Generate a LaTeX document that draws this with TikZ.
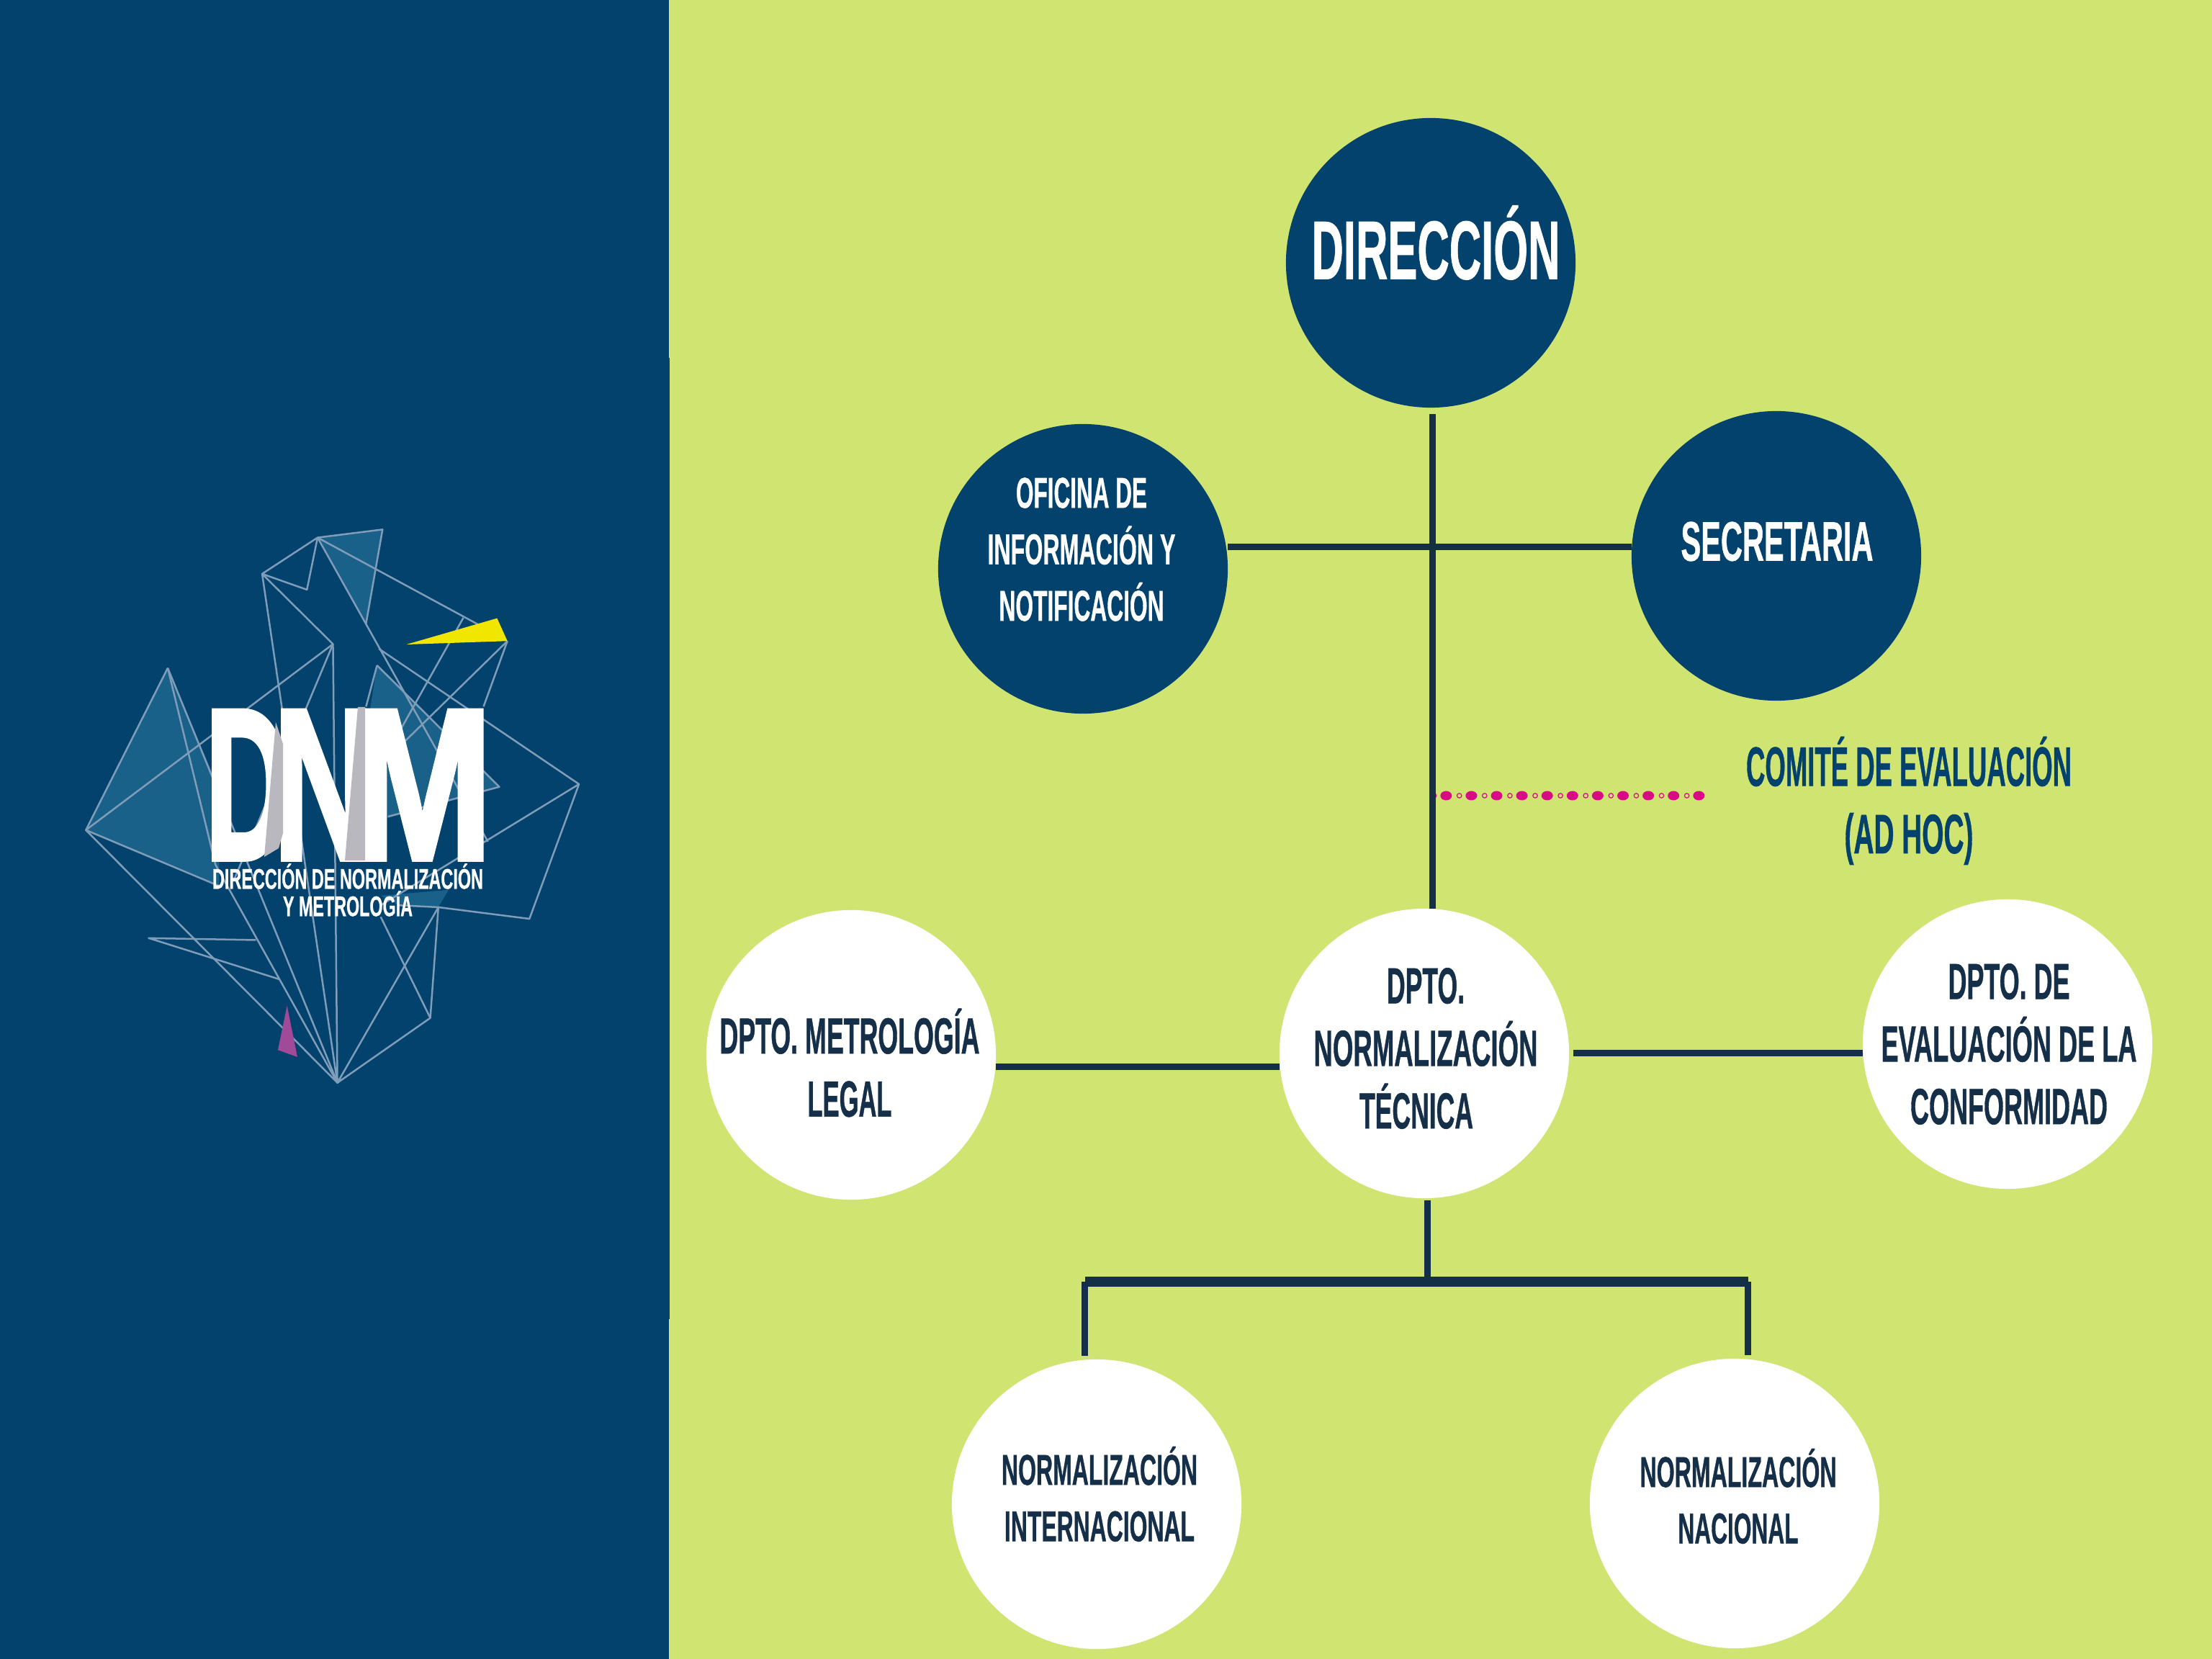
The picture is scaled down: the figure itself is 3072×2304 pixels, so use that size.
\documentclass[tikz,border=0pt]{standalone}
\usepackage{fontspec}
\newfontfamily\capfont[UprightFont=* Bold,FakeBold=1]{Liberation Sans}
\newfontfamily\siglafont[UprightFont=* Bold,FakeBold=2.5]{Liberation Sans}
\newdimen\pxu \pxu=0.01cm
% ancho de cada linea en pixeles de la figura
\newcommand{\ajus}[2]{\resizebox{#1\pxu}{\height}{#2}}
\definecolor{azul}{HTML}{02426C}
\definecolor{verde}{HTML}{D0E472}
\definecolor{tinta}{HTML}{152F48}
\definecolor{traza}{HTML}{7F9DB9}
\definecolor{relleno}{HTML}{1A6189}
\definecolor{gris}{HTML}{B9B8BE}
\definecolor{fucsia}{HTML}{DA0A86}
\definecolor{amarillo}{HTML}{F0E600}
\definecolor{morado}{HTML}{A04A98}
\tikzset{
  circulo/.style={circle, inner sep=0pt, outer sep=0pt, minimum size=4.02cm},
  linea/.style={tinta, line width=0.09cm},
  barra/.style={tinta, line width=0.14cm},
  rotulo/.style={align=center, inner sep=0pt, text=tinta},
  logotrazo/.style={traza, line width=0.025cm, line join=round},
}
\begin{document}
\begin{tikzpicture}[x=0.01cm,y=-0.01cm]
    \fill[verde] (0,0) rectangle (3072,2304);
    \fill[azul] (0,0) rectangle (929,2304);
    \fill[azul] (929,497) rectangle (930,1832);
    % logo
    \begin{scope}[shift={(80,700)},x=0.005102cm,y=-0.005356cm]
    \fill[relleno] (708,87) -- (885,66) -- (840,310) -- cycle;
    \fill[relleno] (300,425) -- (77,845) -- (440,990) -- (440,740) -- cycle;
    \fill[relleno] (870,418) -- (1203,733) -- (800,840) -- cycle;
    \fill[relleno] (880,1015) -- (1065,1000) -- (1037,1045) -- (930,1040) -- cycle;
    \draw[logotrazo] (708,87) -- (885,66) -- (840,310);
    \draw[logotrazo] (557,181) -- (708,87) -- (679,222) -- cycle;
    \draw[logotrazo] (708,87) -- (1145,312);
    \draw[logotrazo] (708,87) -- (1172,875);
    \draw[logotrazo] (875,375) -- (1420,726) -- (1285,1075) -- (1037,1045) -- (930,1040);
    \draw[logotrazo] (1420,726) -- (880,1040);
    \draw[logotrazo] (1225,355) -- (1160,525);
    \draw[logotrazo] (1105,295) -- (925,600);
    \draw[logotrazo] (1225,355) -- (935,625);
    \draw[logotrazo] (557,181) -- (750,363) -- (762,1500) -- (557,181);
    \draw[logotrazo] (750,363) -- (77,845) -- (440,990);
    \draw[logotrazo] (750,363) -- (480,975);
    \draw[logotrazo] (300,425) -- (77,845) -- (762,1500) -- (300,425);
    \draw[logotrazo] (300,425) -- (430,935) -- (762,1500);
    \draw[logotrazo] (540,1130) -- (248,1125) -- (605,1232);
    \draw[logotrazo] (762,1500) -- (1037,1045) -- (1015,1332) -- cycle;
    \draw[logotrazo] (880,1070) -- (1015,1332);
    \draw[logotrazo] (870,418) -- (1203,733) -- (900,810);
    \draw[logotrazo] (870,418) -- (840,525);
    \fill[amarillo] (950,364) -- (1197,296) -- (1225,355) -- cycle;
    \fill[morado] (625,1300) -- (600,1415) -- (653,1433) -- cycle;
    \end{scope}
    \node[anchor=base, inner sep=0pt, text=white, font=\siglafont\fontsize{85}{85}\selectfont] (siglas) at (485,1193)
        {\ajus{116}{D}\hspace{-22\pxu}\ajus{140}{N}\hspace{-31\pxu}\ajus{196}{M}};
    \fill[gris] (383,1003) -- (393,1033) -- (393,1157) -- (387,1178) -- (367,1190) -- cycle;
    \fill[gris] (497,982) -- (507,982) -- (507,1195) -- (479,1195) -- cycle;
    \node[rotulo, text=white, font=\capfont\fontsize{11.2}{10.8}\selectfont] (nombre) at (483,1236)
        {\ajus{376}{DIRECCIÓN DE NORMALIZACIÓN}\\\ajus{180}{Y METROLOGÍA}};
    % circulos
    \node[circulo, fill=azul] (direccion) at (1987,365) {};
    \node[circulo, fill=azul] (oficina) at (1504,790) {};
    \node[circulo, fill=azul] (secretaria) at (2467,772) {};
    \node[circulo, fill=white] (metrologia) at (1182,1465) {};
    \node[circulo, fill=white] (tecnica) at (1978,1463) {};
    \node[circulo, fill=white] (evaluacion) at (2788,1450) {};
    \node[circulo, fill=white] (internacional) at (1523,2089) {};
    \node[circulo, fill=white] (nacional) at (2409,2088) {};
    % textos
    \node[rotulo, text=white, font=\capfont\fontsize{32.7}{40}\selectfont] (direccionT) at (1994,337) {\ajus{345}{DIRECCIÓN}};
    \node[rotulo, text=white, font=\capfont\fontsize{17}{22.3}\selectfont] (oficinaT) at (1502,763)
        {\ajus{182}{OFICINA DE}\\\ajus{261}{INFORMACIÓN Y}\\\ajus{229}{NOTIFICACIÓN}};
    \node[rotulo, text=white, font=\capfont\fontsize{21.9}{26}\selectfont] (secretariaT) at (2468,752) {\ajus{267}{SECRETARIA}};
    \node[rotulo, font=\capfont\fontsize{20}{24.9}\selectfont] (metrologiaT) at (1180,1476)
        {\ajus{361}{DPTO. METROLOGÍA}\\\ajus{117}{LEGAL}};
    \node[rotulo, font=\capfont\fontsize{20}{24.7}\selectfont] (tecnicaT) at (1980,1456)
        {\ajus{108}{DPTO.}\\\ajus{311}{NORMALIZACIÓN}\\\ajus{158}{TÉCNICA}\hspace*{26\pxu}};
    \node[rotulo, font=\capfont\fontsize{20}{24.7}\selectfont] (evaluacionT) at (2790,1450)
        {\ajus{169}{DPTO. DE}\\\ajus{355}{EVALUACIÓN DE LA}\\\ajus{274}{CONFORMIDAD}};
    \node[rotulo, font=\capfont\fontsize{17}{22.3}\selectfont] (internacionalT) at (1527,2075)
        {\ajus{272}{NORMALIZACIÓN}\\\ajus{264}{INTERNACIONAL}};
    \node[rotulo, font=\capfont\fontsize{17}{22.3}\selectfont] (nacionalT) at (2414,2078)
        {\ajus{273}{NORMALIZACIÓN}\\\ajus{167}{NACIONAL}};
    \node[rotulo, text=azul, font=\capfont\fontsize{21.9}{26.6}\selectfont] (comite) at (2651,1112)
        {\ajus{452}{COMITÉ DE EVALUACIÓN}\\\ajus{179}{(AD HOC)}};
    % puntos
    \foreach \i in {0,...,10} {
        \draw[fucsia, line width=0.012cm] ({1991.6+35.1*\i},1105) circle (3.2);
        \fill[fucsia] ({2008.3+35.1*\i},1105) ellipse (8 and 6.5);
    }
    % conectores
    \coordinate (tronco) at (1989.5,760);
    \coordinate (ladoIzq) at (1777,1481);
    \coordinate (ladoDer) at (2588,1462);
    \coordinate (barraIzq) at (1506.5,1780);
    \coordinate (barraDer) at (2427.5,1780);
    \draw[linea, shorten <=0.09cm] (direccion.south -| tronco) -- (tecnica.north -| tronco);
    \draw[linea] (oficina.east |- tronco) -- (secretaria.west |- tronco);
    \draw[linea] (metrologia.east |- ladoIzq) -- (tecnica.west |- ladoIzq);
    \draw[linea, shorten <=0.06cm] (tecnica.east |- ladoDer) -- (evaluacion.west |- ladoDer);
    \draw[linea, shorten <=0.03cm] (tecnica.south -| 1982.5,0) -- (1982.5,1780);
    \draw[barra] (barraIzq) -- (barraDer);
    \draw[linea, shorten >=0.05cm] (barraIzq) -- (internacional.north -| barraIzq);
    \draw[linea, shorten >=0.05cm] (barraDer) -- (nacional.north -| barraDer);
\end{tikzpicture}
\end{document}
